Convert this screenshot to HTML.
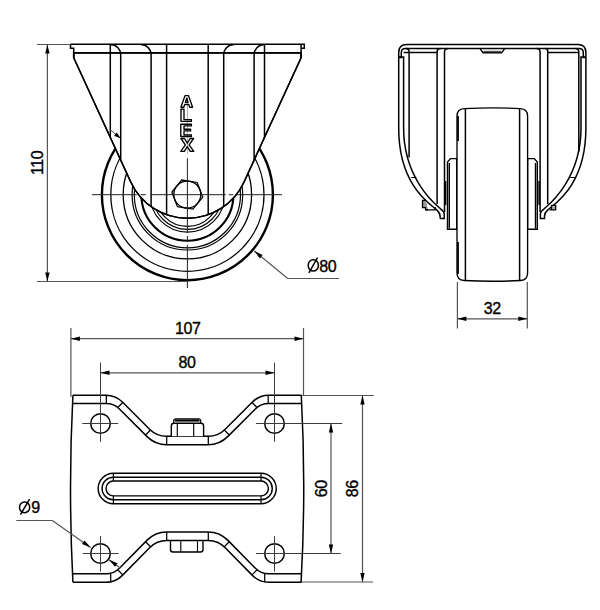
<!DOCTYPE html>
<html><head><meta charset="utf-8"><style>
html,body{margin:0;padding:0;background:#fff;}
svg{display:block;}
text{font-family:"Liberation Sans", sans-serif; fill:#000; stroke:#000; stroke-width:0.35px; letter-spacing:-0.4px;}
</style></head><body>
<svg width="600" height="610" viewBox="0 0 600 610">
<rect width="600" height="610" fill="#fff"/>
<circle cx="187.40" cy="194.70" r="85.50" stroke="#000" stroke-width="2.4" fill="none" />
<circle cx="187.40" cy="194.70" r="76.60" stroke="#000" stroke-width="1.3" fill="none" />
<circle cx="187.40" cy="194.70" r="64.20" stroke="#000" stroke-width="1.3" fill="none" />
<circle cx="187.40" cy="194.70" r="55.30" stroke="#000" stroke-width="1.2" fill="none" />
<circle cx="187.40" cy="194.70" r="53.10" stroke="#000" stroke-width="1.2" fill="none" />
<circle cx="187.40" cy="194.70" r="46.00" stroke="#000" stroke-width="2.1" fill="none" />
<circle cx="187.40" cy="194.70" r="37.40" stroke="#000" stroke-width="1.1" fill="none" />
<circle cx="187.40" cy="194.70" r="34.70" stroke="#000" stroke-width="1.1" fill="none" />
<circle cx="187.40" cy="194.70" r="31.70" stroke="#000" stroke-width="1.2" fill="none" />
<defs><clipPath id="fk"><path d="M73.7,52.8 L73.7,57.7 L130.75,182.00 A62.33,62.33 0 0 0 244.05,182.00 L301.10,57.7 L301.10,52.8 Z"/><rect x="70" y="44" width="240" height="10"/></clipPath></defs>
<path d="M73.7,52.8 L73.7,57.7 L130.75,182.00 A62.33,62.33 0 0 0 244.05,182.00 L301.10,57.7 L301.10,52.8 Z" stroke="#000" stroke-width="1.5" fill="#fff" />
<path d="M70.5,44.3 H304.30 V48.2 H301.10 M70.5,44.3 V48.2 H73.7 V57.7 M301.10,44.3 V57.7" stroke="#000" stroke-width="1.5" fill="none" />
<line x1="73.70" y1="52.80" x2="301.10" y2="52.80" stroke="#000" stroke-width="1.5" />
<path d="M110.3,44.4 V262 M264.50,44.4 V262 M166.6,44.4 V262 M208.20,44.4 V262 M110.40,44.4 A10.3,10.3 0 0 1 120.7,54.70 V262 M264.40,44.4 A10.3,10.3 0 0 0 254.10,54.70 V262 M140.80,44.4 A10.3,10.3 0 0 1 151.1,54.70 V262 M234.00,44.4 A10.3,10.3 0 0 0 223.70,54.70 V262" stroke="#000" stroke-width="1.5" fill="none" clip-path="url(#fk)"/>
<path d="M73.7,52.8 L73.7,57.7 L130.75,182.00 A62.33,62.33 0 0 0 244.05,182.00 L301.10,57.7 L301.10,52.8 Z" stroke="#000" stroke-width="1.5" fill="none" />
<polygon points="202.71,197.04 192.89,209.16 177.48,206.72 171.89,192.16 181.71,180.04 197.12,182.48" fill="none" stroke="#000" stroke-width="1.3"/>
<circle cx="187.30" cy="194.60" r="13.50" stroke="#000" stroke-width="1.3" fill="none" />
<line x1="187.40" y1="97.00" x2="187.40" y2="154.00" stroke="#999" stroke-width="0.8" />
<path d="M180.9,107.2 L185.0,95.6 H188.5 L192.6,107.2 H189.7 L188.8,104.5 H184.7 L183.8,107.2 Z M185.4,102.4 L186.75,98.3 L188.1,102.4 Z" stroke="#000" stroke-width="1.35" fill="none" stroke-linejoin="round"/>
<path d="M181.0,109.2 V121.3 H191.4 V119.6 H184.0 V109.2 Z" stroke="#000" stroke-width="1.35" fill="none" stroke-linejoin="round"/>
<path d="M180.8,124.2 H191.4 V125.9 H184.0 V129.2 H190.6 V130.9 H184.0 V134.8 H191.4 V136.5 H180.8 Z" stroke="#000" stroke-width="1.35" fill="none" stroke-linejoin="round"/>
<path d="M180.9,138.5 H184.4 L187.3,143.2 L190.2,138.5 H193.6 L189.1,144.9 L193.8,151.3 H190.3 L187.3,146.6 L184.3,151.3 H180.7 L185.4,144.9 Z" stroke="#000" stroke-width="1.35" fill="none" stroke-linejoin="round"/>
<line x1="92.00" y1="194.70" x2="136.70" y2="194.70" stroke="#222" stroke-width="1.0" />
<line x1="140.80" y1="194.70" x2="145.80" y2="194.70" stroke="#222" stroke-width="1.0" />
<line x1="150.80" y1="194.70" x2="225.80" y2="194.70" stroke="#222" stroke-width="1.0" />
<line x1="228.70" y1="194.70" x2="233.30" y2="194.70" stroke="#222" stroke-width="1.0" />
<line x1="236.80" y1="194.70" x2="282.00" y2="194.70" stroke="#222" stroke-width="1.0" />
<line x1="187.40" y1="158.30" x2="187.40" y2="233.00" stroke="#222" stroke-width="1.0" />
<line x1="187.40" y1="236.00" x2="187.40" y2="242.00" stroke="#222" stroke-width="1.0" />
<line x1="187.40" y1="245.00" x2="187.40" y2="288.00" stroke="#222" stroke-width="1.0" />
<line x1="109.50" y1="129.00" x2="116.00" y2="134.50" stroke="#555" stroke-width="1.0" />
<path d="M120.80,138.60 L114.11,135.67 L116.82,132.47 Z" fill="#000" stroke="none"/>
<line x1="37.00" y1="44.50" x2="70.50" y2="44.50" stroke="#555" stroke-width="1.2" />
<line x1="37.00" y1="281.50" x2="187.00" y2="281.50" stroke="#555" stroke-width="1.2" />
<line x1="47.40" y1="44.50" x2="47.40" y2="281.50" stroke="#555" stroke-width="1.2" />
<path d="M47.40,44.50 L49.60,53.50 L45.20,53.50 Z" fill="#000" stroke="none"/>
<path d="M47.40,281.50 L45.20,272.50 L49.60,272.50 Z" fill="#000" stroke="none"/>
<text x="42.8" y="162.9" font-size="16" text-anchor="middle" transform="rotate(-90 42.8 162.9)" >110</text>
<line x1="254.30" y1="251.00" x2="287.70" y2="278.50" stroke="#555" stroke-width="1.2" />
<line x1="287.70" y1="278.50" x2="339.00" y2="278.50" stroke="#555" stroke-width="1.2" />
<path d="M254.30,251.00 L262.65,255.02 L259.85,258.42 Z" fill="#000" stroke="none"/>
<ellipse cx="313.3" cy="265.4" rx="5.1" ry="5.7" stroke="#000" stroke-width="1.5" fill="none"/>
<line x1="308.90" y1="272.90" x2="317.60" y2="257.50" stroke="#000" stroke-width="1.5" />
<text x="319.2" y="272.0" font-size="16" text-anchor="start" >80</text>
<path d="M440.1,218.4 V216 Q440.1,213 437,210.1 C432,205.15 398.7,187 398.7,128 V52.6 Q398.7,44.5 406.8,44.5 H577.80 Q585.90,44.5 585.90,52.6 V128 C585.90,187 552.60,205.15 547.60,210.1 Q544.50,213 544.50,216 V218.4 H540.35 V214 Q540.35,211.5 544.10,208.8 C546.20,206.7 581.00,181 581.00,128 V57 H585.90 M440.1,218.4 H444.25 V214 Q444.25,211.5 440.5,208.8 C438.4,206.7 403.6,181 403.6,128 V57 H398.7" stroke="#000" stroke-width="1.5" fill="none" />
<path d="M398.7,57.5 H401.3 V52.8 Q401.3,48.6 405.5,48.6 H579.10 Q583.30,48.6 583.30,52.8 V57.5 H585.90" stroke="#000" stroke-width="1.5" fill="none" />
<path d="M409.1,157.5 V52 Q409.1,48.6 405.7,48.6 M437.1,204 V52 Q437.1,48.6 440.5,48.6 M444.5,212 V52.2 Q444.5,48.6 448.1,48.6 M540.1,212 V52.2 Q540.1,48.6 536.5,48.6 M547.7,204 V51 Q547.7,48.6 545.3,48.6 M578.8,151.5 V52 Q578.8,48.6 575.4,48.6" stroke="#000" stroke-width="1.5" fill="none" />
<line x1="403.60" y1="52.50" x2="437.10" y2="52.50" stroke="#000" stroke-width="1.5" />
<line x1="547.70" y1="52.50" x2="578.80" y2="52.50" stroke="#000" stroke-width="1.5" />
<line x1="411.30" y1="177.50" x2="416.40" y2="177.50" stroke="#000" stroke-width="1.0" />
<line x1="570.20" y1="177.50" x2="575.20" y2="177.50" stroke="#000" stroke-width="1.0" />
<path d="M480,48.7 L483,52.7 H501.7 L504.7,48.7" stroke="#000" stroke-width="1.35" fill="none" />
<line x1="483.50" y1="51.50" x2="501.20" y2="51.50" stroke="#555" stroke-width="1.4" />
<path d="M428,209.8 H425.5 V207.5 H422.5 V200.4 H426" stroke="#000" stroke-width="1.25" fill="#999" />
<path d="M426,209.8 H435.2 V207" stroke="#000" stroke-width="1.25" fill="none" />
<path d="M549.5,209.75 H555.7 V205.3 H551.5 V209.75" stroke="#000" stroke-width="1.25" fill="#aaa" />
<path d="M447.5,229.3 V162 L450.5,158.6 H456.8 V229.3 Z" stroke="#000" stroke-width="1.4" fill="#fff" />
<path d="M537.3,229.3 V162 L534.3,158.6 H527.6 V229.3 Z" stroke="#000" stroke-width="1.4" fill="#fff" />
<line x1="449.30" y1="163.00" x2="449.30" y2="228.50" stroke="#000" stroke-width="1.4" />
<line x1="535.50" y1="163.00" x2="535.50" y2="228.50" stroke="#000" stroke-width="1.4" />
<line x1="445.60" y1="181.00" x2="445.60" y2="205.00" stroke="#000" stroke-width="1.5" />
<line x1="539.10" y1="181.00" x2="539.10" y2="205.00" stroke="#000" stroke-width="1.5" />
<path d="M457,116 Q457,109.2 464,108.7 Q492.3,106.9 520.6,108.7 Q527.6,109.2 527.6,116 V273 Q527.6,280 520.6,280.5 Q492.3,282 464,280.5 Q457,280 457,273 Z" stroke="#000" stroke-width="1.35" fill="#fff" />
<line x1="465.40" y1="108.60" x2="465.40" y2="280.30" stroke="#000" stroke-width="1.5" />
<line x1="519.60" y1="108.60" x2="519.60" y2="280.30" stroke="#000" stroke-width="1.5" />
<line x1="458.00" y1="116.00" x2="458.00" y2="141.00" stroke="#000" stroke-width="1.8" />
<line x1="458.00" y1="242.00" x2="458.00" y2="274.00" stroke="#000" stroke-width="1.8" />
<line x1="457.40" y1="282.00" x2="457.40" y2="328.50" stroke="#555" stroke-width="1.2" />
<line x1="527.30" y1="282.00" x2="527.30" y2="328.50" stroke="#555" stroke-width="1.2" />
<line x1="457.40" y1="318.80" x2="527.30" y2="318.80" stroke="#555" stroke-width="1.2" />
<path d="M457.40,318.80 L466.40,316.60 L466.40,321.00 Z" fill="#000" stroke="none"/>
<path d="M527.30,318.80 L518.30,321.00 L518.30,316.60 Z" fill="#000" stroke="none"/>
<text x="492.3" y="314.4" font-size="16" text-anchor="middle" >32</text>
<path d="M72.9,395.2 Q68.1,488.6 72.9,582.1" stroke="#000" stroke-width="1.5" fill="none" />
<path d="M301.3,395.2 Q306.3,488.6 301.1,582.1" stroke="#000" stroke-width="1.5" fill="none" />
<path d="M72.9,395.2 H106 Q115.6,395.2 122.4,402 L149.6,429.2 Q156.7,436.3 166.7,436.3 H208.10 Q218.10,436.3 225.20,429.2 L252.40,402 Q259.20,395.2 268.80,395.2 H301.5" stroke="#000" stroke-width="1.5" fill="none" />
<path d="M72.9,403.5 H106 Q114,403.5 119.7,409.2 L147.1,436.6 Q155.2,444.7 166.7,444.7 H208.10 Q219.60,444.7 227.70,436.6 L255.10,409.2 Q260.80,403.5 268.80,403.5 H301.5" stroke="#000" stroke-width="1.5" fill="none" />
<path d="M106.3,395.2 V403.5 M123,402.3 L118,407.3 M150.3,430.3 L145.3,435.3 M166.7,436.3 V444.7 M208.3,436.3 V444.7 M224.50,430.3 L229.50,435.3 M251.80,402.3 L256.80,407.3 M268.2,395.2 V403.5" stroke="#000" stroke-width="1.25" fill="none" />
<path d="M 72.90,582.30 H 106 Q 115.60,582.30 122.40,575.38 L 149.60,547.68 Q 156.70,540.45 166.70,540.45 H 208.10 Q 218.10,540.45 225.20,547.68 L 252.40,575.38 Q 259.20,582.30 268.80,582.30 H 301.5" stroke="#000" stroke-width="1.5" fill="none" />
<path d="M 72.90,573.85 H 106 Q 114.00,573.85 119.70,568.05 L 147.10,540.15 Q 155.20,531.90 166.70,531.90 H 208.10 Q 219.60,531.90 227.70,540.15 L 255.10,568.05 Q 260.80,573.85 268.80,573.85 H 301.5" stroke="#000" stroke-width="1.5" fill="none" />
<path d="M 110.70,582.30 V 573.85 M 123.00,575.07 L 118.00,569.98 M 150.30,546.56 L 145.30,541.47 M 166.70,540.45 V 531.90 M 208.30,540.45 V 531.90 M 224.50,546.56 L 229.50,541.47 M 251.80,575.07 L 256.80,569.98 M 264.70,582.30 V 573.85" stroke="#000" stroke-width="1.25" fill="none" />
<path d="M171.3,436.3 V426 Q171.3,423.3 174,423.3 H201 Q203.6,423.3 203.6,426 V436.3" stroke="#000" stroke-width="1.4" fill="#fff" />
<line x1="177.30" y1="423.30" x2="177.30" y2="436.30" stroke="#000" stroke-width="1.15" />
<line x1="193.70" y1="423.30" x2="193.70" y2="436.30" stroke="#000" stroke-width="1.15" />
<path d="M173.7,423.3 V421 Q173.7,418.9 176,418.9 H198.4 Q200.7,418.9 200.7,421 V423.3" stroke="#000" stroke-width="1.25" fill="none" />
<line x1="175.00" y1="420.50" x2="199.50" y2="420.50" stroke="#000" stroke-width="2.2" />
<path d="M170.5,541.3 V549.5 Q170.5,552 173,552 H200.5 Q203,552 203,549.5 V541.3" stroke="#000" stroke-width="1.4" fill="none" />
<line x1="180.80" y1="541.30" x2="180.80" y2="552.00" stroke="#000" stroke-width="1.15" />
<line x1="197.50" y1="541.30" x2="197.50" y2="552.00" stroke="#000" stroke-width="1.15" />
<circle cx="100.50" cy="423.50" r="9.80" stroke="#000" stroke-width="1.5" fill="none" />
<circle cx="274.50" cy="423.50" r="9.80" stroke="#000" stroke-width="1.5" fill="none" />
<circle cx="100.50" cy="553.50" r="9.80" stroke="#000" stroke-width="1.5" fill="none" />
<circle cx="274.50" cy="553.50" r="9.80" stroke="#000" stroke-width="1.5" fill="none" />
<line x1="82.20" y1="423.50" x2="118.30" y2="423.50" stroke="#3c3c3c" stroke-width="1.0" />
<line x1="256.00" y1="423.50" x2="342.30" y2="423.50" stroke="#3c3c3c" stroke-width="1.0" />
<line x1="82.70" y1="553.50" x2="118.70" y2="553.50" stroke="#3c3c3c" stroke-width="1.0" />
<line x1="256.00" y1="553.50" x2="340.70" y2="553.50" stroke="#3c3c3c" stroke-width="1.0" />
<line x1="100.50" y1="362.50" x2="100.50" y2="441.80" stroke="#3c3c3c" stroke-width="1.0" />
<line x1="274.50" y1="362.50" x2="274.50" y2="441.80" stroke="#3c3c3c" stroke-width="1.0" />
<line x1="100.50" y1="536.00" x2="100.50" y2="571.50" stroke="#3c3c3c" stroke-width="1.0" />
<line x1="274.50" y1="536.00" x2="274.50" y2="571.50" stroke="#3c3c3c" stroke-width="1.0" />
<path d="M113.4,473.2 H261.0 A15.25,15.25 0 0 1 261.0,503.7 H113.4 A15.25,15.25 0 0 1 113.4,473.2 Z" stroke="#000" stroke-width="1.45" fill="none" />
<path d="M113.4,477.15 H261.0 A11.3,11.3 0 0 1 261.0,499.75 H113.4 A11.3,11.3 0 0 1 113.4,477.15 Z" stroke="#000" stroke-width="1.45" fill="none" />
<path d="M113.4,481.05 H261.0 A7.4,7.4 0 0 1 261.0,495.84999999999997 H113.4 A7.4,7.4 0 0 1 113.4,481.05 Z" stroke="#000" stroke-width="1.45" fill="none" />
<line x1="113.40" y1="473.20" x2="113.40" y2="481.05" stroke="#000" stroke-width="1.25" />
<line x1="113.40" y1="495.85" x2="113.40" y2="503.70" stroke="#000" stroke-width="1.25" />
<line x1="261.00" y1="473.20" x2="261.00" y2="481.05" stroke="#000" stroke-width="1.25" />
<line x1="261.00" y1="495.85" x2="261.00" y2="503.70" stroke="#000" stroke-width="1.25" />
<line x1="70.90" y1="328.00" x2="70.90" y2="397.00" stroke="#555" stroke-width="1.2" />
<line x1="303.50" y1="328.00" x2="303.50" y2="395.20" stroke="#555" stroke-width="1.2" />
<line x1="70.90" y1="338.70" x2="303.50" y2="338.70" stroke="#555" stroke-width="1.2" />
<path d="M70.90,338.70 L79.90,336.50 L79.90,340.90 Z" fill="#000" stroke="none"/>
<path d="M303.50,338.70 L294.50,340.90 L294.50,336.50 Z" fill="#000" stroke="none"/>
<text x="187.75" y="334.2" font-size="16" text-anchor="middle" >107</text>
<line x1="100.50" y1="372.80" x2="274.50" y2="372.80" stroke="#555" stroke-width="1.2" />
<path d="M100.50,372.80 L109.50,370.60 L109.50,375.00 Z" fill="#000" stroke="none"/>
<path d="M274.50,372.80 L265.50,375.00 L265.50,370.60 Z" fill="#000" stroke="none"/>
<text x="187" y="368.3" font-size="16" text-anchor="middle" >80</text>
<line x1="302.00" y1="395.50" x2="373.80" y2="395.50" stroke="#555" stroke-width="1.2" />
<line x1="302.00" y1="582.00" x2="373.00" y2="582.00" stroke="#555" stroke-width="1.2" />
<line x1="362.50" y1="395.50" x2="362.50" y2="582.00" stroke="#555" stroke-width="1.2" />
<path d="M362.50,395.50 L364.70,404.50 L360.30,404.50 Z" fill="#000" stroke="none"/>
<path d="M362.50,582.00 L360.30,573.00 L364.70,573.00 Z" fill="#000" stroke="none"/>
<text x="358.5" y="488.8" font-size="16" text-anchor="middle" transform="rotate(-90 358.5 488.8)" >86</text>
<line x1="331.00" y1="423.50" x2="331.00" y2="553.50" stroke="#555" stroke-width="1.2" />
<path d="M331.00,423.50 L333.20,432.50 L328.80,432.50 Z" fill="#000" stroke="none"/>
<path d="M331.00,553.50 L328.80,544.50 L333.20,544.50 Z" fill="#000" stroke="none"/>
<text x="327.0" y="488.8" font-size="16" text-anchor="middle" transform="rotate(-90 327.0 488.8)" >60</text>
<line x1="16.30" y1="520.50" x2="52.30" y2="520.50" stroke="#555" stroke-width="1.2" />
<line x1="52.30" y1="520.50" x2="90.60" y2="547.40" stroke="#555" stroke-width="1.2" />
<path d="M90.60,547.40 L81.97,544.03 L84.50,540.43 Z" fill="#000" stroke="none"/>
<line x1="109.00" y1="559.80" x2="120.30" y2="568.00" stroke="#555" stroke-width="1.2" />
<path d="M109.00,559.80 L117.58,563.31 L114.99,566.87 Z" fill="#000" stroke="none"/>
<ellipse cx="24.6" cy="507.3" rx="5.1" ry="5.4" stroke="#000" stroke-width="1.5" fill="none"/>
<line x1="20.40" y1="514.60" x2="29.60" y2="499.20" stroke="#000" stroke-width="1.5" />
<text x="31.2" y="512.9" font-size="16" text-anchor="start" >9</text>
</svg></body></html>
